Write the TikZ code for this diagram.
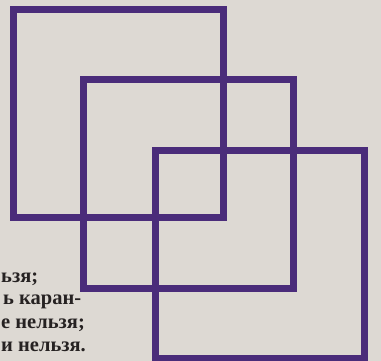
\documentclass[tikz,border=0pt]{standalone}
\usepackage{fontspec}
\setmainfont{Liberation Serif}
\definecolor{paper}{RGB}{221,217,211}
\definecolor{sqcol}{RGB}{74,44,122}
\definecolor{ink}{RGB}{38,34,34}
\tikzset{
  sqline/.style={draw=sqcol, line width=7pt, line join=miter},
  txt/.style={anchor=base west, inner sep=0pt, text=ink, font=\bfseries\fontsize{20.5}{24}\selectfont}
}
\begin{document}
\begin{tikzpicture}[x=1pt,y=-1pt]
\useasboundingbox (0,0) rectangle (381,361);
\fill[paper] (0,0) rectangle (381,361);
\node[txt] (t1) at (1,282) {ьзя;};
\node[txt] (t2) at (3,305) {ь каран-};
\node[txt] (t3) at (1,328) {е нельзя;};
\node[txt] (t4) at (1,351) {и нельзя.};
\draw[sqline] (13.5,9.5) rectangle (223.5,217.5);
\draw[sqline] (83.5,80) rectangle (293.5,288.5);
\draw[sqline] (155.5,151) rectangle (364,358);
\end{tikzpicture}
\end{document}
